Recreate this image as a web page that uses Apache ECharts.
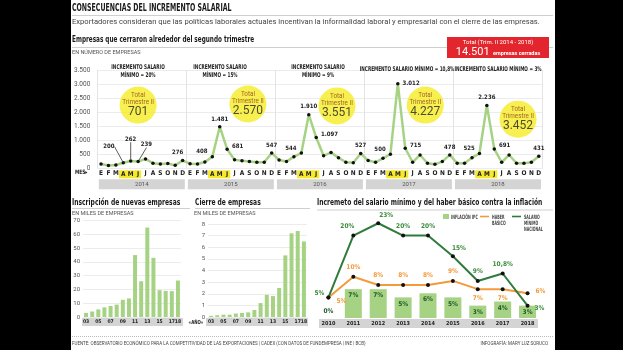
<!DOCTYPE html>
<html>
<head>
<meta charset="utf-8">
<script src="https://cdn.jsdelivr.net/npm/echarts@6/dist/echarts.min.js"></script>
<style>
  html, body { margin: 0; padding: 0; background: #000; }
  #chart { width: 623px; height: 350px; background: linear-gradient(to right, #000 71px, #fff 71px, #fff 555px, #000 555px); }
</style>
</head>
<body>
<div id="chart"></div>
<script>
// ---- datos ----
const MESES = ['E', 'F', 'M', 'A', 'M', 'J', 'J', 'A', 'S', 'O', 'N', 'D'];
const ANIOS_TRIM = ['2014', '2015', '2016', '2017', '2018'];
const cierresMensuales = [
  150, 100, 120, 200, 262, 239, 335, 180, 155, 170, 105, 276,   // 2014
  165, 155, 225, 408, 1481, 681, 300, 265, 240, 215, 215, 547,  // 2015
  295, 240, 415, 544, 1910, 1097, 450, 560, 380, 215, 200, 527, // 2016
  275, 215, 355, 500, 3012, 715, 215, 475, 180, 145, 240, 478,  // 2017
  180, 180, 380, 525, 2236, 691, 215, 475, 180, 180, 215, 431   // 2018
];
const ANIOS_EMP = ['2003', '2004', '2005', '2006', '2007', '2008', '2009', '2010',
  '2011', '2012', '2013', '2014', '2015', '2016', '2017', '2018'];
const inscripciones = [3, 4, 5.5, 7, 8, 9, 12.5, 13.5, 45, 26, 65, 43, 19.5, 19, 18.8, 26.5];
const cierresAnuales = [0.1, 0.15, 0.2, 0.2, 0.3, 0.35, 0.4, 0.6, 1.2, 1.9, 1.8, 2.5, 5.3, 7.2, 7.4, 6.5];
const ANIOS_SAL = ['2010', '2011', '2012', '2013', '2014', '2015', '2016', '2017', '2018'];
const inflacionIPC = [0, 7, 7, 5, 6, 5, 3, 4, 3];
const haberBasico = [5, 10, 8, 8, 8, 9, 7, 7, 6];
const salarioMinimo = [5, 20, 23, 20, 20, 15, 9, 10.8, 3];

// ---- estilos ----
const COND = '"DejaVu Sans Condensed", "DejaVu Sans", sans-serif';
const SANS = 'Roboto, "Noto Sans", sans-serif';
const VERDE = '#a6d383';
const VERDE_OSC = '#2f7b3c';
const NARANJA = '#f39a3a';
const GRIS_BANDA = '#d4d4d4';

const miles = v => String(v).replace(/\B(?=(\d{3})+(?!\d))/g, '.');
const pct = v => String(v).replace('.', ',') + '%';

const trim2 = ANIOS_TRIM.map((_, y) => cierresMensuales.slice(y * 12 + 3, y * 12 + 6).reduce((a, b) => a + b, 0));
const totalTrim = trim2.reduce((a, b) => a + b, 0);

const chart = echarts.init(document.getElementById('chart'), null, { renderer: 'canvas' });

// texto estrecho (graphic con escala horizontal)
const txt = (x, y, text, font, fill, sx, extra) => ({
  type: 'text', x, y, scaleX: sx || 1, z: 10,
  style: Object.assign({ text, font, fill }, extra || {})
});
const lineaH = (y, x1, x2, color, dash, w) => ({
  type: 'line', shape: { x1, y1: y, x2, y2: y },
  style: { stroke: color || '#cfcfcf', lineWidth: w || 1, lineDash: dash || null }
});

// etiquetas de la serie mensual
const mensualData = cierresMensuales.map((v, i) => {
  const m = i % 12;
  const show = m === 3 || m === 4 || m === 5 || m === 11;
  let position = 'top';
  if (m === 3) position = 'left';
  if (m === 5 || i === 40) position = 'right';
  const item = { value: v, label: { show, position } };
  if (i < 6 && show) item.labelLine = { show: true, lineStyle: { color: '#333', width: 0.8 } };
  return item;
});

// circulos amarillos (posicion en el eje oculto)
const circOffX = [5.0, 7.8, 7.8, 7.7, 8.2];
const circY = [2250, 2290, 2220, 2250, 1750];
const circulos = trim2.map((t, y) => ({
  value: [y * 12 + circOffX[y], circY[y]],
  label: { formatter: `{a|Total}\n{a|Trimestre II}\n{b|${miles(t)}}` }
}));

// anotaciones de incremento salarial
const annot = [
  { x: 138, y: 63, lines: 2 }, { x: 220, y: 63, lines: 2 }, { x: 318, y: 63, lines: 2 },
  { x: 407, y: 65, lines: 1 }, { x: 498, y: 65, lines: 1 }
];
const annotGraphics = ANIOS_TRIM.map((yr, i) => {
  const inc = pct(salarioMinimo[ANIOS_SAL.indexOf(yr)]);
  const a = annot[i];
  return txt(a.x, a.y,
    a.lines === 2 ? `INCREMENTO SALARIO\nMÍNIMO = ${inc}` : `INCREMENTO SALARIO MÍNIMO = ${inc}`,
    `bold 6.5px ${COND}`, '#222', 0.72, { align: 'center', lineHeight: 8 });
});

const TIT = `bold 9.5px ${COND}`;

// eje de anios de las barras pequenas
const ejeAnios = (gridIndex) => ({
  type: 'category', gridIndex, data: ANIOS_EMP, z: 5,
  axisLine: { show: false }, axisTick: { show: false },
  axisLabel: {
    margin: 2, fontSize: 5, fontWeight: 'bold', color: '#222', fontFamily: COND,
    hideOverlap: false, showMaxLabel: true,
    interval: (i) => i % 2 === 0 || i === ANIOS_EMP.length - 1,
    formatter: v => v.slice(2)
  }
});

const option = {
  backgroundColor: 'transparent',
  animation: false,
  textStyle: { fontFamily: COND },
  graphic: [
    txt(72, 3, 'CONSECUENCIAS DEL INCREMENTO SALARIAL', `bold 10.5px ${COND}`, '#1a1a1a', 0.66),
    lineaH(15.5, 72, 553),
    txt(72, 18.5, 'Exportadores consideran que las políticas laborales actuales incentivan la informalidad laboral y empresarial con el cierre de las empresas.', `7.6px ${SANS}`, '#444'),
    txt(72, 35, 'Empresas que cerraron alrededor del segundo trimestre', TIT, '#1a1a1a', 0.67),
    lineaH(47.5, 72, 553),
    txt(72, 50, 'EN NÚMERO DE EMPRESAS', `5.5px ${SANS}`, '#555'),
    { type: 'rect', shape: { x: 447, y: 37, width: 102, height: 21 }, style: { fill: '#e3262d' } },
    txt(498, 39, `Total (Trim. II ${ANIOS_TRIM[0]} - ${ANIOS_TRIM[ANIOS_TRIM.length - 1]})`, `6px ${SANS}`, '#fff', 1, { align: 'center' }),
    { type: 'text', x: 498, y: 46, z: 10, style: {
        text: `{n|${miles(totalTrim)}} {e|empresas cerradas}`, align: 'center',
        rich: { n: { font: `11px ${SANS}`, fill: '#fff' }, e: { font: `bold 5.5px ${SANS}`, fill: '#fff', padding: [3, 0, 0, 0] } } } },
    txt(75, 169, 'MES▸', `bold 6px ${COND}`, '#222', 0.8),
    ...annotGraphics,
    // secciones inferiores
    txt(72, 198, 'Inscripción de nuevas empresas', TIT, '#1a1a1a', 0.7),
    lineaH(208.5, 72, 190),
    txt(72, 211, 'EN MILES DE EMPRESAS', `5.5px ${SANS}`, '#555'),
    txt(195, 198, 'Cierre de empresas', TIT, '#1a1a1a', 0.7),
    lineaH(208.5, 195, 310),
    txt(194, 211, 'EN MILES DE EMPRESAS', `5.5px ${SANS}`, '#555'),
    txt(317, 198, 'Incremeto del salario mínimo y del haber básico contra la inflación', TIT, '#1a1a1a', 0.7),
    lineaH(210, 317, 553),
    // leyenda
    { type: 'rect', shape: { x: 443, y: 214, width: 6, height: 5 }, style: { fill: VERDE } },
    txt(451, 214, 'INFLACIÓN IPC', `bold 6px ${COND}`, '#444', 0.6),
    lineaH(216.5, 480, 489, NARANJA, null, 1.6),
    txt(492, 214, 'HABER\nBÁSICO', `bold 6px ${COND}`, '#444', 0.6, { lineHeight: 6 }),
    lineaH(216.5, 512, 521, VERDE_OSC, null, 1.6),
    txt(524, 214, 'SALARIO\nMÍNIMO\nNACIONAL', `bold 6px ${COND}`, '#444', 0.6, { lineHeight: 6 }),
    // bandas de eje
    { type: 'rect', z: -1, shape: { x: 82, y: 318, width: 101, height: 8 }, style: { fill: GRIS_BANDA } },
    { type: 'rect', z: -1, shape: { x: 206, y: 318, width: 102, height: 8 }, style: { fill: GRIS_BANDA } },
    { type: 'rect', z: -1, shape: { x: 319, y: 319, width: 219, height: 9 }, style: { fill: GRIS_BANDA } },
    txt(196, 319.5, '«AÑO»', `bold 5.5px ${COND}`, '#222', 0.8, { align: 'center' }),
    lineaH(336.5, 72, 553, '#bbb', [1, 1]),
    txt(72, 341, 'FUENTE: OBSERVATORIO ECONÓMICO PARA LA COMPETITIVIDAD DE LAS EXPORTACIONES | CADEX (CON DATOS DE FUNDEMPRESA | INE | BCB)', `4.5px ${SANS}`, '#444'),
    txt(548, 341, 'INFOGRAFÍA: MARY LUZ SORUCO', `4.5px ${SANS}`, '#444', 1, { align: 'right' })
  ],
  grid: [
    { left: 97.3, right: 80.5, top: 70, bottom: 181.7 },
    { left: 83, width: 98, top: 220.7, bottom: 33 },
    { left: 208, width: 99, top: 224, bottom: 33 },
    { left: 316, width: 224, top: 215, bottom: 32 }
  ],
  xAxis: [
    { // meses
      type: 'category', gridIndex: 0, data: cierresMensuales.map((_, i) => MESES[i % 12]),
      axisLine: { show: false }, axisTick: { show: false },
      axisLabel: {
        interval: 0, margin: 2, fontSize: 6.5, fontWeight: 'bold', color: '#222', fontFamily: COND,
        formatter: (v, i) => (i % 12 >= 3 && i % 12 <= 5) ? `{h|${v}}` : v,
        rich: { h: { backgroundColor: '#f6e92c', padding: [1, 2, 0, 2], fontSize: 6.5, fontWeight: 'bold', color: '#222', fontFamily: COND } }
      }
    },
    { // anios
      type: 'category', gridIndex: 0, data: ANIOS_TRIM, position: 'bottom', offset: 8,
      axisLine: { show: false }, axisTick: { show: false },
      splitLine: { show: true, lineStyle: { color: '#e3e3e3' } },
      axisLabel: {
        margin: 3, fontSize: 6, color: '#555', fontFamily: SANS,
        backgroundColor: GRIS_BANDA, width: 86, height: 10, lineHeight: 10, align: 'center'
      }
    },
    { type: 'value', gridIndex: 0, min: -0.5, max: 59.5, show: false },
    ejeAnios(1),
    ejeAnios(2),
    { // salario
      type: 'category', gridIndex: 3, data: ANIOS_SAL, z: 5,
      axisLine: { show: false }, axisTick: { show: false },
      axisLabel: { margin: 3, fontSize: 5.5, fontWeight: 'bold', color: '#222', fontFamily: COND, interval: 0 }
    }
  ],
  yAxis: [
    {
      type: 'value', gridIndex: 0, min: 0, max: 3500, interval: 500,
      axisLine: { show: false }, axisTick: { show: false },
      splitLine: { lineStyle: { color: '#ececec' } },
      axisLabel: { margin: 7, fontSize: 6.5, color: '#555', fontFamily: SANS, formatter: miles }
    },
    {
      type: 'value', gridIndex: 1, min: 0, max: 70, interval: 10,
      axisLine: { show: false }, axisTick: { show: false },
      splitLine: { lineStyle: { color: '#ececec' } },
      axisLabel: { margin: 3, fontSize: 6, color: '#555', fontFamily: SANS }
    },
    {
      type: 'value', gridIndex: 2, min: 0, max: 8, interval: 1,
      axisLine: { show: false }, axisTick: { show: false },
      splitLine: { lineStyle: { color: '#ececec' } },
      axisLabel: { margin: 3, fontSize: 6, color: '#555', fontFamily: SANS }
    },
    { type: 'value', gridIndex: 3, min: 0, max: 25, show: false }
  ],
  series: [
    {
      name: 'cierres', type: 'line', xAxisIndex: 0, yAxisIndex: 0, data: mensualData, z: 4,
      lineStyle: { color: VERDE, width: 2.5 },
      symbol: 'circle', symbolSize: 3.5, itemStyle: { color: '#111' },
      label: { distance: 3, fontSize: 6, fontWeight: 'bold', color: '#222', fontFamily: COND, formatter: p => miles(p.value) },
      labelLine: { show: false },
      labelLayout: (p) => {
        const m = p.dataIndex % 12;
        if (p.dataIndex === 3) return { dx: -4, dy: -16 };
        if (p.dataIndex === 4) return { dy: -14 };
        if (p.dataIndex === 5) return { dx: -2, dy: -17 };
        if (p.dataIndex === 11) return { dx: -5 };
        if (m === 3) return { dy: -5 };
        if (m === 5) return { dy: -3 };
        return {};
      }
    },
    {
      name: 'totales', type: 'scatter', xAxisIndex: 2, yAxisIndex: 0, data: circulos, z: 3,
      symbolSize: 37, itemStyle: { color: '#f6ec24' }, silent: true,
      label: {
        show: true, position: 'inside', align: 'center',
        rich: {
          a: { fontSize: 6.3, color: '#8a3d1c', fontFamily: SANS, lineHeight: 7 },
          b: { fontSize: 12, color: '#222', fontFamily: SANS, lineHeight: 13 }
        }
      }
    },
    {
      name: 'inscripciones', type: 'bar', xAxisIndex: 3, yAxisIndex: 1, data: inscripciones,
      barWidth: 4, itemStyle: { color: VERDE }
    },
    {
      name: 'cierresAnuales', type: 'bar', xAxisIndex: 4, yAxisIndex: 2, data: cierresAnuales,
      barWidth: 4, itemStyle: { color: VERDE }
    },
    {
      name: 'INFLACIÓN IPC', type: 'bar', xAxisIndex: 5, yAxisIndex: 3, barWidth: 17,
      itemStyle: { color: VERDE },
      data: inflacionIPC.map(v => ({ value: v, label: { position: v === 0 ? 'top' : 'insideTop' } })),
      label: { show: true, fontSize: 6.5, fontWeight: 'bold', color: '#1f5a2a', fontFamily: COND, formatter: p => pct(p.value), distance: 3 }
    },
    {
      name: 'HABER BÁSICO', type: 'line', xAxisIndex: 5, yAxisIndex: 3, z: 4,
      data: haberBasico.map((v, i) => ({ value: v, label: { position: (i === 0 || i === 8) ? 'right' : ((i === 6 || i === 7) ? 'bottom' : 'top') } })),
      lineStyle: { color: NARANJA, width: 2 }, itemStyle: { color: '#111' },
      symbol: 'circle', symbolSize: 4,
      label: { show: true, fontSize: 6.5, fontWeight: 'bold', color: NARANJA, fontFamily: COND, formatter: p => pct(p.value), distance: 4 },
      labelLayout: (p) => p.dataIndex === 0 ? { dx: 2, dy: 4 } : (p.dataIndex === 8 ? { dx: 2, dy: -2 } : {})
    },
    {
      name: 'SALARIO MÍNIMO NACIONAL', type: 'line', xAxisIndex: 5, yAxisIndex: 3, z: 5,
      data: salarioMinimo.map((v, i) => ({ value: v, label: { position: i === 0 ? 'left' : (i === 8 ? 'right' : 'top') } })),
      lineStyle: { color: VERDE_OSC, width: 2 }, itemStyle: { color: '#111' },
      symbol: 'circle', symbolSize: 4,
      label: { show: true, fontSize: 6.5, fontWeight: 'bold', color: '#3c8c3c', fontFamily: COND, formatter: p => pct(p.value), distance: 4 },
      labelLayout: (p) => {
        if (p.dataIndex === 0) return { dx: 2, dy: -4 };
        if (p.dataIndex === 1) return { dx: -6 };
        if (p.dataIndex === 2) return { dx: 8, dy: 2 };
        if (p.dataIndex === 5) return { dx: 6, dy: 2 };
        if (p.dataIndex === 8) return { dx: 1, dy: 3 };
        return {};
      }
    }
  ]
};

chart.setOption(option);
</script>
</body>
</html>
